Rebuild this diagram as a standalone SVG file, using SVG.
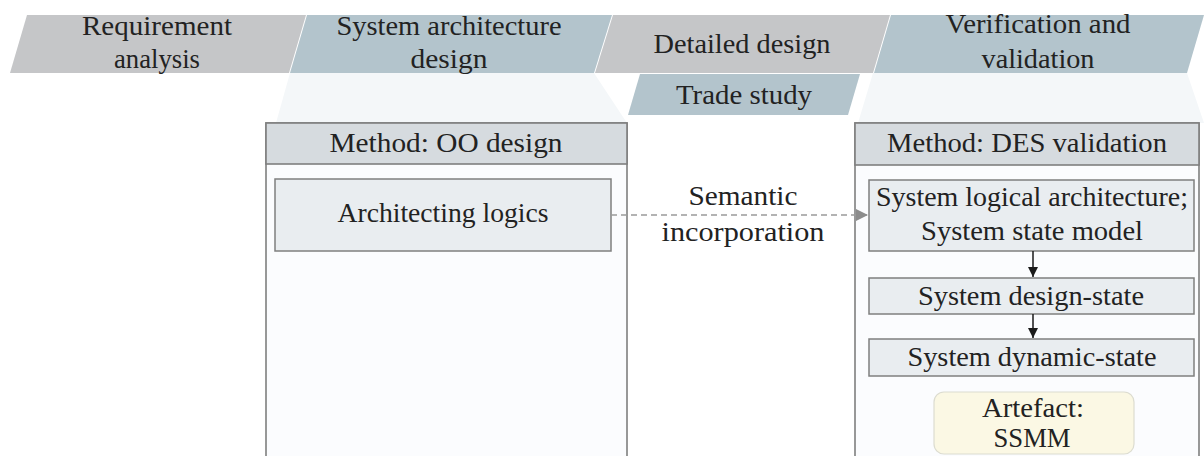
<svg xmlns="http://www.w3.org/2000/svg" width="1204" height="456" viewBox="0 0 1204 456">
  <defs>
    <marker id="arrGray" viewBox="0 0 10 10" refX="10" refY="5" markerWidth="12" markerHeight="12" markerUnits="userSpaceOnUse" orient="auto">
      <path d="M0,0 L10,5 L0,10 z" fill="#8c8c8c"/>
    </marker>
    <marker id="arrBlack" viewBox="0 0 10 10" refX="10" refY="5" markerWidth="10" markerHeight="10" markerUnits="userSpaceOnUse" orient="auto">
      <path d="M0,0 L10,5 L0,10 z" fill="#1a1a1a"/>
    </marker>
  </defs>
  <style>
    text { fill: #222222; text-anchor: middle; font-size: 27px; font-family: "Liberation Serif", "Times New Roman", serif; }
    .gray { fill: #c5c6c8; }
    .blue { fill: #b3c4cc; }
    .haze { fill: #f4f7f9; }
    .frame { fill: #fbfcfe; stroke: #7f7f7f; stroke-width: 1.6; }
    .head { fill: #d6dbdf; stroke: #7f7f7f; stroke-width: 1.6; }
    .inner { fill: #e9edf0; stroke: #7f7f7f; stroke-width: 1.5; }
    .artefact { fill: #fbf8e4; stroke: #dcdcd0; stroke-width: 1.2; }
  </style>

  <rect width="1204" height="456" fill="#ffffff"/>

  <!-- phase banners -->
  <g id="phases">
    <polygon class="haze" points="290,73 594,73 627,123 276,123"/>
    <polygon class="haze" points="873,73 1187,73 1204,123 858,123"/>
    <g id="phase-requirement">
      <polygon class="gray" points="27,15 306,15 289,73 10,73"/>
      <text x="157" y="35" textLength="150" lengthAdjust="spacingAndGlyphs">Requirement</text>
      <text x="157" y="68" textLength="86" lengthAdjust="spacingAndGlyphs">analysis</text>
    </g>
    <g id="phase-architecture">
      <polygon class="blue" points="307,15 612,15 594,73 290,73"/>
      <text x="449" y="35" textLength="225" lengthAdjust="spacingAndGlyphs">System architecture</text>
      <text x="449" y="68" textLength="77" lengthAdjust="spacingAndGlyphs">design</text>
    </g>
    <g id="phase-detailed">
      <polygon class="gray" points="613,15 890,15 873,73 595,73"/>
      <text x="742" y="53" textLength="177" lengthAdjust="spacingAndGlyphs">Detailed design</text>
    </g>
    <g id="phase-trade">
      <polygon class="blue" points="640,74 860,74 848,115 628,115"/>
      <text x="744" y="104" textLength="136" lengthAdjust="spacingAndGlyphs">Trade study</text>
    </g>
    <g id="phase-verification">
      <polygon class="blue" points="891,15 1204,15 1187,73 874,73"/>
      <text x="1038" y="33" textLength="185" lengthAdjust="spacingAndGlyphs">Verification and</text>
      <text x="1038" y="68" textLength="113" lengthAdjust="spacingAndGlyphs">validation</text>
    </g>
  </g>

  <!-- method: OO design -->
  <g id="method-oo">
    <rect class="frame" x="266" y="123" width="361" height="345"/>
    <rect class="head" x="266" y="123" width="361" height="41"/>
    <text x="446" y="152" textLength="233" lengthAdjust="spacingAndGlyphs">Method: OO design</text>
  </g>
  <g id="architecting-logics">
    <rect class="inner" x="275" y="179" width="336" height="72"/>
    <text x="443" y="222" textLength="211" lengthAdjust="spacingAndGlyphs">Architecting logics</text>
  </g>

  <!-- method: DES validation -->
  <g id="method-des">
    <rect class="frame" x="855" y="123" width="344" height="345"/>
    <rect class="head" x="855" y="123" width="344" height="42"/>
    <text x="1027" y="152" textLength="280" lengthAdjust="spacingAndGlyphs">Method: DES validation</text>
  </g>
  <g id="logical-architecture">
    <rect class="inner" x="869" y="180" width="325" height="71"/>
    <text x="1032" y="206" textLength="312" lengthAdjust="spacingAndGlyphs">System logical architecture;</text>
    <text x="1032" y="240" textLength="222" lengthAdjust="spacingAndGlyphs">System state model</text>
  </g>
  <g id="design-state">
    <rect class="inner" x="869" y="278" width="325" height="36"/>
    <text x="1031" y="305" textLength="226" lengthAdjust="spacingAndGlyphs">System design-state</text>
  </g>
  <g id="dynamic-state">
    <rect class="inner" x="869" y="339" width="325" height="37"/>
    <text x="1032" y="366" textLength="249" lengthAdjust="spacingAndGlyphs">System dynamic-state</text>
  </g>
  <g id="artefact">
    <rect class="artefact" x="934" y="392" width="200" height="62" rx="10"/>
    <text x="1033" y="417" textLength="102" lengthAdjust="spacingAndGlyphs">Artefact:</text>
    <text x="1032" y="447" textLength="77" lengthAdjust="spacingAndGlyphs">SSMM</text>
  </g>

  <!-- connectors -->
  <g id="connectors">
    <line x1="611" y1="215" x2="868" y2="215" stroke="#9a9a9a" stroke-width="1.5" stroke-dasharray="6,4" marker-end="url(#arrGray)"/>
    <text x="743" y="205" textLength="109" lengthAdjust="spacingAndGlyphs">Semantic</text>
    <text x="743" y="241" textLength="163" lengthAdjust="spacingAndGlyphs">incorporation</text>
    <line x1="1033" y1="251" x2="1033" y2="277" stroke="#1a1a1a" stroke-width="1.5" marker-end="url(#arrBlack)"/>
    <line x1="1033" y1="314" x2="1033" y2="338" stroke="#1a1a1a" stroke-width="1.5" marker-end="url(#arrBlack)"/>
  </g>
</svg>
